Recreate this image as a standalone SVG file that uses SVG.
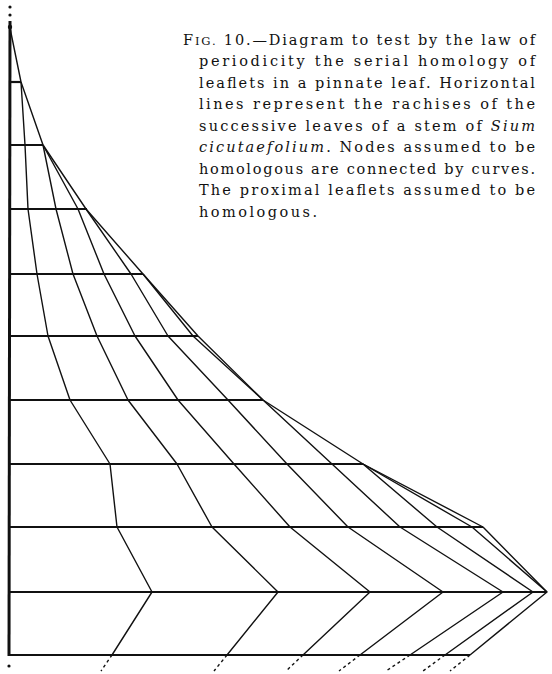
<svg xmlns="http://www.w3.org/2000/svg" width="552" height="674" viewBox="0 0 552 674">
<style>
.row{stroke:#111;stroke-width:2.2;fill:none;stroke-linecap:butt}
.stem{stroke:#111;stroke-width:3;fill:none}
.c{stroke:#111;stroke-width:1.4;fill:none;stroke-linejoin:round}
.d{stroke:#111;stroke-width:1.4;stroke-dasharray:3 3;fill:none}
.dot{fill:#111}
text{font-family:"DejaVu Serif","Liberation Serif",serif;font-size:14.5px;fill:#111}
.it{font-style:italic}
</style>
<rect width="552" height="674" fill="#fff"/>
<g id="stem">
<circle class="dot" cx="10" cy="7" r="1.6"/>
<circle class="dot" cx="10" cy="15" r="1.6"/>
<line class="stem" x1="10" y1="21" x2="9" y2="656"/>
<circle class="dot" cx="10" cy="27" r="2.2"/>
<circle class="dot" cx="9" cy="666" r="1.6"/>
</g>
<g id="rachises">
<line id="leaf1" class="row" x1="10" y1="82" x2="21" y2="82"/>
<line id="leaf2" class="row" x1="10" y1="145" x2="43" y2="145"/>
<line id="leaf3" class="row" x1="10" y1="209" x2="87" y2="209"/>
<line id="leaf4" class="row" x1="10" y1="274" x2="143" y2="274"/>
<line id="leaf5" class="row" x1="10" y1="336" x2="198" y2="336"/>
<line id="leaf6" class="row" x1="10" y1="400" x2="263" y2="400"/>
<line id="leaf7" class="row" x1="10" y1="464" x2="363" y2="464"/>
<line id="leaf8" class="row" x1="10" y1="527" x2="483" y2="527"/>
<line id="leaf9" class="row" x1="9" y1="592" x2="547" y2="592"/>
<line id="leaf10" class="row" x1="9" y1="655" x2="470" y2="655"/>
</g>
<g id="connectors">
<polyline class="c" points="10,28 21,82 25,145 28,209 37,274 48,336 70,400 110,464 117,527 152,592 112,655"/>
<polyline class="c" points="21,82 43,145 56,209 73,274 97,336 128,400 177,464 212,527 278,592 227,655"/>
<polyline class="c" points="43,145 78,209 104,274 135,336 178,400 234,464 290,527 370,592 303,655"/>
<polyline class="c" points="43,145 86,209 131,274 168,336 228,400 287,464 348,527 443,592 360,655"/>
<polyline class="c" points="86,209 143,274 193,336 263,400 332,464 400,527 503,592 410,655"/>
<polyline class="c" points="143,274 198,336 263,400 363,464 437,527 533,592 445,655"/>
<polyline class="c" points="363,464 472,527 547,592 470,655"/>
<polyline class="c" points="363,464 483,527 547,592"/>
<line class="d" x1="112" y1="655" x2="101" y2="671"/>
<line class="d" x1="227" y1="655" x2="214" y2="671"/>
<line class="d" x1="303" y1="655" x2="286" y2="671"/>
<line class="d" x1="360" y1="655" x2="339" y2="671"/>
<line class="d" x1="410" y1="655" x2="386" y2="671"/>
<line class="d" x1="445" y1="655" x2="423" y2="671"/>
<line class="d" x1="470" y1="655" x2="450" y2="671"/>
</g>
<g id="caption">
<text x="183" y="44.5" textLength="352" lengthAdjust="spacing">F<tspan font-size="11.5">IG.</tspan> 10.—Diagram to test by the law of</text>
<text x="199" y="66" textLength="336" lengthAdjust="spacing">periodicity the serial homology of</text>
<text x="199" y="87.5" textLength="336" lengthAdjust="spacing">leaflets in a pinnate leaf. Horizontal</text>
<text x="199" y="109" textLength="336" lengthAdjust="spacing">lines represent the rachises of the</text>
<text x="199" y="130.5" textLength="336" lengthAdjust="spacing">successive leaves of a stem of <tspan class="it">Sium</tspan></text>
<text x="199" y="152" textLength="336" lengthAdjust="spacing"><tspan class="it">cicutaefolium</tspan>. Nodes assumed to be</text>
<text x="199" y="173.5" textLength="336" lengthAdjust="spacing">homologous are connected by curves.</text>
<text x="199" y="195" textLength="336" lengthAdjust="spacing">The proximal leaflets assumed to be</text>
<text x="199" y="216.5" textLength="118" lengthAdjust="spacing">homologous.</text>
</g>
</svg>
